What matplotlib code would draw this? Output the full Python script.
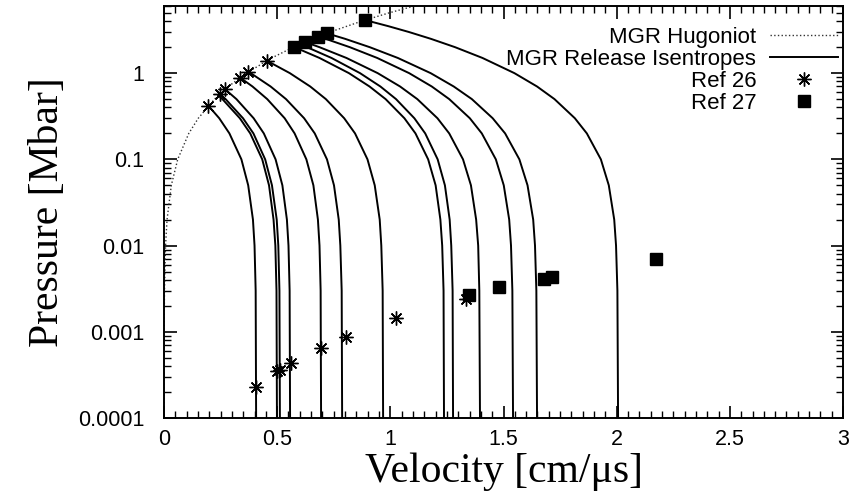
import numpy as np
import matplotlib
matplotlib.use('Agg')
import matplotlib.pyplot as plt
from matplotlib.ticker import MultipleLocator, LogLocator, FixedLocator, FixedFormatter, NullFormatter

plt.rcParams['font.family'] = ['Liberation Sans', 'DejaVu Sans']

# MGR Hugoniot
hug_u = [0.00007, 0.0007, 0.0021, 0.0069, 0.0135, 0.0323, 0.0606, 0.1095, 0.1516, 0.2233, 0.2845,
         0.3639, 0.4758, 0.5716, 0.6567, 0.7341, 0.8722, 0.9943, 1.1051]
hug_p = [0.0001, 0.001, 0.003, 0.01, 0.02, 0.05, 0.1, 0.2, 0.3, 0.5, 0.7,
         1.0, 1.5, 2.0, 2.5, 3.0, 4.0, 5.0, 6.0]

# release isentropes, one list per curve
rel_u = [
    [0.196, 0.244, 0.289, 0.342, 0.372, 0.393, 0.400, 0.405, 0.407],
    [0.240, 0.258, 0.335, 0.381, 0.434, 0.464, 0.484, 0.492, 0.497, 0.499],
    [0.247, 0.272, 0.349, 0.395, 0.447, 0.477, 0.498, 0.505, 0.510, 0.512],
    [0.270, 0.320, 0.396, 0.441, 0.493, 0.523, 0.543, 0.550, 0.555, 0.557],
    [0.336, 0.391, 0.456, 0.533, 0.577, 0.629, 0.660, 0.680, 0.687, 0.692, 0.694],
    [0.373, 0.383, 0.471, 0.539, 0.619, 0.666, 0.720, 0.751, 0.772, 0.779, 0.785, 0.787],
    [0.454, 0.556, 0.646, 0.715, 0.796, 0.844, 0.899, 0.931, 0.953, 0.960, 0.966, 0.968],
    [0.574, 0.687, 0.817, 0.908, 0.979, 1.062, 1.111, 1.167, 1.200, 1.221, 1.229, 1.235, 1.237],
    [0.600, 0.632, 0.740, 0.866, 0.956, 1.025, 1.106, 1.154, 1.209, 1.241, 1.262, 1.269, 1.275, 1.277],
    [0.623, 0.687, 0.806, 0.944, 1.043, 1.119, 1.208, 1.260, 1.321, 1.356, 1.379, 1.388, 1.393, 1.396],
    [0.682, 0.714, 0.821, 0.942, 1.083, 1.183, 1.260, 1.351, 1.404, 1.466, 1.501, 1.525, 1.533, 1.539, 1.542],
    [0.719, 0.800, 0.909, 1.033, 1.178, 1.280, 1.360, 1.452, 1.507, 1.570, 1.606, 1.631, 1.639, 1.645, 1.648],
    [0.888, 0.908, 0.992, 1.082, 1.179, 1.286, 1.407, 1.548, 1.648, 1.725, 1.815, 1.868, 1.930, 1.965,
     1.989, 1.997, 2.003, 2.006],
]
rel_p = [
    [0.419, 0.3, 0.2, 0.1, 0.05, 0.02, 0.01, 0.003, 1e-4],
    [0.552, 0.5, 0.3, 0.2, 0.1, 0.05, 0.02, 0.01, 0.003, 1e-4],
    [0.574, 0.5, 0.3, 0.2, 0.1, 0.05, 0.02, 0.01, 0.003, 1e-4],
    [0.650, 0.5, 0.3, 0.2, 0.1, 0.05, 0.02, 0.01, 0.003, 1e-4],
    [0.889, 0.7, 0.5, 0.3, 0.2, 0.1, 0.05, 0.02, 0.01, 0.003, 1e-4],
    [1.037, 1.0, 0.7, 0.5, 0.3, 0.2, 0.1, 0.05, 0.02, 0.01, 0.003, 1e-4],
    [1.395, 1.0, 0.7, 0.5, 0.3, 0.2, 0.1, 0.05, 0.02, 0.01, 0.003, 1e-4],
    [2.013, 1.5, 1.0, 0.7, 0.5, 0.3, 0.2, 0.1, 0.05, 0.02, 0.01, 0.003, 1e-4],
    [2.161, 2.0, 1.5, 1.0, 0.7, 0.5, 0.3, 0.2, 0.1, 0.05, 0.02, 0.01, 0.003, 1e-4],
    [2.296, 2.0, 1.5, 1.0, 0.7, 0.5, 0.3, 0.2, 0.1, 0.05, 0.02, 0.01, 0.003, 1e-4],
    [2.659, 2.5, 2.0, 1.5, 1.0, 0.7, 0.5, 0.3, 0.2, 0.1, 0.05, 0.02, 0.01, 0.003, 1e-4],
    [2.899, 2.5, 2.0, 1.5, 1.0, 0.7, 0.5, 0.3, 0.2, 0.1, 0.05, 0.02, 0.01, 0.003, 1e-4],
    [4.124, 4.0, 3.5, 3.0, 2.5, 2.0, 1.5, 1.0, 0.7, 0.5, 0.3, 0.2, 0.1, 0.05, 0.02, 0.01, 0.003, 1e-4],
]

# Ref 26 (asterisks)
ref26_u = [0.196, 0.247, 0.270, 0.336, 0.373, 0.454,
           0.407, 0.500, 0.513, 0.560, 0.694, 0.804, 1.025, 1.334]
ref26_p = [0.42, 0.57, 0.65, 0.89, 1.04, 1.39,
           2.3e-4, 3.5e-4, 3.6e-4, 4.3e-4, 6.5e-4, 8.6e-4, 1.45e-3, 2.42e-3]

# Ref 27 (squares)
ref27_u = [0.574, 0.623, 0.682, 0.719, 0.888,
           1.349, 1.482, 1.680, 1.713, 2.173]
ref27_p = [2.01, 2.30, 2.66, 2.90, 4.12,
           2.69e-3, 3.3e-3, 4.1e-3, 4.27e-3, 6.96e-3]

xticks = [0, 0.5, 1, 1.5, 2, 2.5, 3]
xtick_labels = ['0', '0.5', '1', '1.5', '2', '2.5', '3']
yticks = [1e-4, 1e-3, 1e-2, 1e-1, 1]
ytick_labels = ['0.0001', '0.001', '0.01', '0.1', '1']

fig = plt.figure(figsize=(8.51, 5.04), dpi=100)
ax = fig.add_axes([0.1927, 0.1706, 0.798, 0.8174])

ax.plot(hug_u, hug_p, ':', color='#333333', lw=1.0, label='MGR Hugoniot')
for i in range(len(rel_u)):
    ax.plot(rel_u[i], rel_p[i], '-', color='black', lw=1.4,
            label='MGR Release Isentropes' if i == 0 else None)
ax.plot(ref26_u, ref26_p, ls='none', marker=(8, 2, 0), ms=10, mew=1.0, color='black', label='Ref 26')
ax.plot(ref27_u, ref27_p, ls='none', marker='s', ms=9, color='black', label='Ref 27')

ax.set_yscale('log')
ax.set_xlim(0, 3)
ax.set_ylim(1e-4, 6)

ax.xaxis.set_major_locator(FixedLocator(xticks))
ax.xaxis.set_major_formatter(FixedFormatter(xtick_labels))
ax.xaxis.set_minor_locator(MultipleLocator(0.05))
ax.yaxis.set_major_locator(FixedLocator(yticks))
ax.yaxis.set_major_formatter(FixedFormatter(ytick_labels))
ax.yaxis.set_minor_locator(LogLocator(base=10, subs=np.arange(2, 10)))
ax.yaxis.set_minor_formatter(NullFormatter())

ax.tick_params(which='both', direction='in', top=True, right=True, labelsize=15.5)
ax.tick_params(axis='x', pad=8)
ax.tick_params(axis='y', pad=14)
ax.tick_params(which='major', length=9, width=1.2)
ax.tick_params(which='minor', length=5, width=1.0)
for s in ax.spines.values():
    s.set_linewidth(1.4)

ax.set_xlabel('Velocity [cm/\u03bcs]', family=['Liberation Serif', 'DejaVu Serif'], fontsize=30, labelpad=2)
ax.set_ylabel('Pressure [Mbar]', family=['Liberation Serif', 'DejaVu Serif'], fontsize=30, labelpad=8)

leg = ax.legend(loc='upper right', bbox_to_anchor=(1.016, 0.988), frameon=False, markerfirst=False,
                fontsize=16, handlelength=3.1, labelspacing=0.05, borderaxespad=0.3, handletextpad=0.6)

fig.savefig('out.png', dpi=100)
